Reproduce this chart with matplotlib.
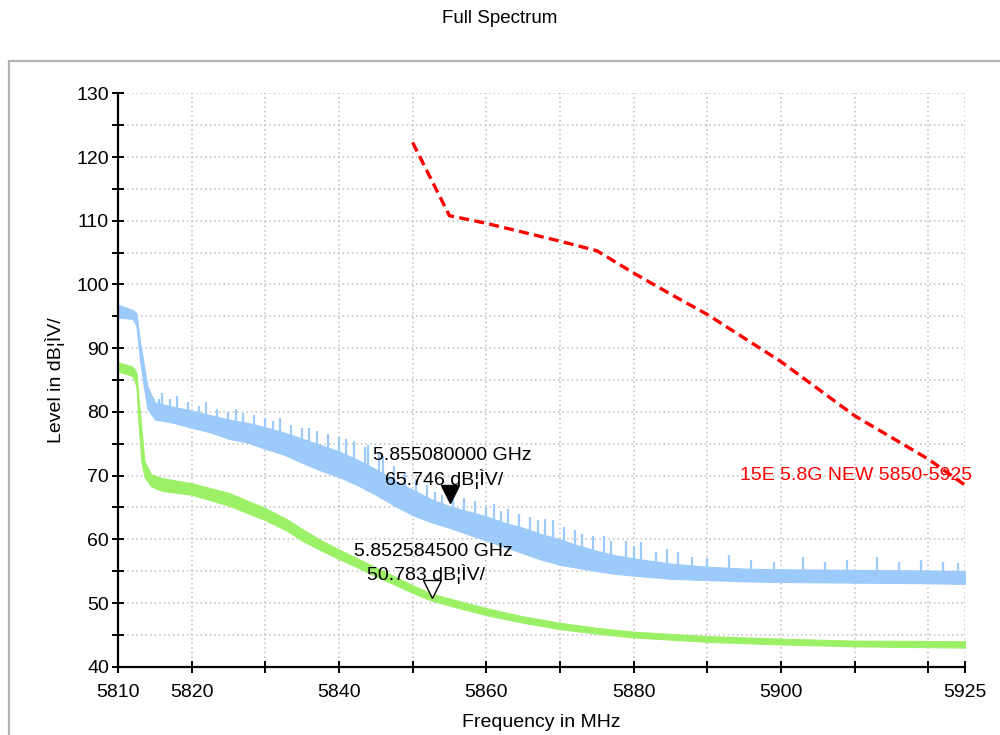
import matplotlib
matplotlib.use("Agg")
import matplotlib.pyplot as plt
from matplotlib.lines import Line2D
from matplotlib.transforms import offset_copy
import numpy as np

plt.rcParams['font.family'] = ['Liberation Sans', 'DejaVu Sans']

# ---- data ----
blue_freq = [5810, 5812, 5812.5, 5813, 5813.5, 5814, 5815, 5817.5, 5820, 5822.5, 5825, 5827.5,
             5830, 5832.5, 5835, 5837.5, 5840, 5842.5, 5845, 5847.5, 5850, 5852.5, 5855,
             5857.5, 5860, 5862.5, 5865, 5867.5, 5870, 5872.5, 5875, 5877.5, 5880, 5885,
             5890, 5895, 5900, 5910, 5920, 5925]
blue_low = [94.8, 94.6, 93.5, 88.0, 84.0, 80.5, 78.8, 78.3, 77.5, 76.8, 75.8, 75.2,
            74.2, 73.3, 72.0, 70.8, 69.8, 68.5, 67.0, 65.3, 63.8, 62.7, 61.8,
            60.8, 59.8, 58.8, 57.8, 56.8, 56.0, 55.5, 55.0, 54.6, 54.3, 53.8,
            53.6, 53.4, 53.3, 53.2, 53.1, 53.0]
blue_high = [96.8, 96.0, 95.5, 91.0, 87.5, 84.0, 81.5, 80.8, 80.2, 79.5, 78.8, 78.3,
             77.6, 76.8, 75.8, 74.8, 73.8, 72.5, 71.0, 69.3, 67.8, 66.3, 65.2,
             64.4, 63.6, 62.6, 61.8, 60.8, 60.0, 59.0, 58.2, 57.5, 57.0, 56.2,
             55.7, 55.4, 55.3, 55.2, 55.1, 55.0]
blue_spike_freq = [5814.5, 5815.5, 5816, 5817, 5818, 5819.5, 5821, 5822, 5823.5, 5825, 5826,
                   5827, 5828.5, 5830, 5831, 5832, 5833.5, 5835, 5836, 5837, 5838.5, 5840,
                   5841, 5842, 5843.5, 5844, 5845.5, 5846, 5847.5, 5849, 5850.5, 5852, 5853,
                   5854, 5855.5, 5857, 5858.5, 5860, 5861, 5862, 5863, 5864.5, 5866, 5867,
                   5868, 5869, 5870.5, 5872, 5873, 5874.5, 5876, 5877, 5879, 5880, 5881,
                   5883, 5884.5, 5886, 5888, 5890, 5893, 5896, 5899, 5903, 5906, 5909,
                   5913, 5916, 5919, 5922, 5924]
blue_spike_level = [82.5, 82.0, 83.0, 82.0, 82.5, 81.5, 81.0, 81.5, 80.5, 80.0, 80.5,
                    79.8, 79.5, 79.0, 78.5, 79.0, 78.0, 77.5, 77.5, 77.0, 76.5, 76.0,
                    75.8, 75.5, 74.5, 74.8, 73.5, 73.0, 71.5, 70.5, 69.5, 68.5, 67.5,
                    67.0, 67.8, 66.5, 66.0, 65.0, 65.5, 64.5, 64.8, 64.0, 63.5, 63.0,
                    63.2, 63.0, 62.0, 61.5, 60.8, 60.5, 60.5, 59.8, 59.8, 59.0, 59.5,
                    58.0, 58.5, 58.0, 57.2, 57.0, 57.5, 56.8, 56.5, 57.2, 56.5, 56.8,
                    57.3, 56.5, 56.8, 56.5, 56.3]

green_freq = [5810, 5812, 5812.5, 5812.8, 5813.2, 5813.6, 5814.5, 5816, 5820, 5825, 5830,
              5833, 5835, 5837.5, 5840, 5842.5, 5845, 5847.5, 5850, 5852.5, 5855, 5860,
              5865, 5870, 5875, 5880, 5890, 5900, 5910, 5925]
green_low = [86.4, 85.6, 84.0, 78.0, 72.0, 69.8, 68.3, 67.6, 67.0, 65.3, 63.0,
             61.3, 59.8, 58.3, 56.9, 55.6, 54.2, 52.9, 51.6, 50.4, 49.6, 48.1,
             46.9, 45.9, 45.2, 44.6, 43.9, 43.5, 43.2, 43.0]
green_high = [87.8, 87.1, 86.2, 82.0, 77.0, 72.2, 70.2, 69.6, 68.8, 67.3, 64.9,
              63.1, 61.6, 59.9, 58.4, 57.0, 55.6, 54.2, 52.8, 51.5, 50.7, 49.2,
              47.9, 46.9, 46.1, 45.5, 44.8, 44.4, 44.1, 44.0]

limit_freq = [5850, 5855, 5860, 5865, 5870, 5875, 5880, 5885, 5890, 5900, 5910, 5920, 5925]
limit_level = [122.3, 110.8, 109.6, 108.2, 106.8, 105.3, 101.8, 98.5, 95.3, 87.9, 79.4, 72.6, 68.5]
limit_label = "15E 5.8G NEW 5850-5925"

marker1 = (5855.08, 65.746, "5.855080000 GHz", "65.746 dB¦ÌV/")
marker2 = (5852.5845, 50.783, "5.852584500 GHz", "50.783 dB¦ÌV/")

xtick_vals = [5810, 5820, 5830, 5840, 5850, 5860, 5870, 5880, 5890, 5900, 5910, 5920, 5925]
xtick_labels = ["5810", "5820", "", "5840", "", "5860", "", "5880", "", "5900", "", "", "5925"]
ytick_vals = [40, 50, 60, 70, 80, 90, 100, 110, 120, 130]

FS = 14

# ---- figure ----
fig = plt.figure(figsize=(10, 7.35), dpi=100)
ax = fig.add_axes([0.118, 0.0929, 0.847, 0.7801])

blue = "#9ccafa"
green = "#9cf066"

ax.fill_between(blue_freq, blue_low, blue_high, color=blue, lw=0.8, zorder=3)
ax.vlines(blue_spike_freq, np.interp(blue_spike_freq, blue_freq, blue_low), blue_spike_level,
          color=blue, lw=1.6, zorder=3)
ax.fill_between(green_freq, green_low, green_high, color=green, lw=0.8, zorder=4)

ax.plot(limit_freq, limit_level, color="#ff0000", lw=2.4, dashes=(3, 1.6), zorder=5)
ax.text(5926.0, 70.0, limit_label, color="#ff0000", fontsize=FS, ha="right", va="center", zorder=6)

# markers
for (f, v, t1, t2), filled in ((marker1, True), (marker2, False)):
    tr = offset_copy(ax.transData, fig=fig, x=0, y=9, units="dots")
    ax.plot([f], [v], marker="v", ms=13, mfc="black" if filled else "white",
            mec="black", mew=1.0, transform=tr, zorder=7, clip_on=False)
    ax.annotate(t1, (f, v), xytext=(2, 47), textcoords="offset pixels", ha="center",
                va="center", fontsize=FS, zorder=8)
    ax.annotate(t2, (f, v), xytext=(-6, 24), textcoords="offset pixels", ha="center",
                va="center", fontsize=FS, zorder=8)

ax.set_xlim(5810, 5925)
ax.set_ylim(40, 130)
ax.set_xticks(xtick_vals)
ax.set_xticklabels(xtick_labels)
ax.set_yticks(ytick_vals)
ax.set_yticks(np.arange(45, 130, 10), minor=True)

ax.grid(True, which="both", color="#bdbdbd", linestyle=(0, (1, 2)), lw=1.1, zorder=0)
for s in ("top", "right"):
    ax.spines[s].set_visible(False)
for s in ("left", "bottom"):
    ax.spines[s].set_linewidth(1.6)
    ax.spines[s].set_zorder(9)
ax.tick_params(axis="both", which="both", direction="inout", length=9, width=1.4,
               labelsize=FS, colors="black")
ax.tick_params(axis="x", pad=8)
ax.tick_params(axis="y", pad=2)

ax.set_xlabel("Frequency in MHz", fontsize=FS, labelpad=9)
ax.set_ylabel("Level in dB¦ÌV/", fontsize=FS, labelpad=8)

fig.text(0.5, 0.975, "Full Spectrum", ha="center", va="center", fontsize=13.5)

# outer frame lines
fig.add_artist(Line2D([0.009, 1.0], [1 - 61 / 735, 1 - 61 / 735], color="#b4b4b4", lw=1.6,
                      transform=fig.transFigure))
fig.add_artist(Line2D([0.009, 0.009], [0, 1 - 61 / 735], color="#b4b4b4", lw=1.6,
                      transform=fig.transFigure))

fig.savefig("out.png", dpi=100, facecolor="white")
